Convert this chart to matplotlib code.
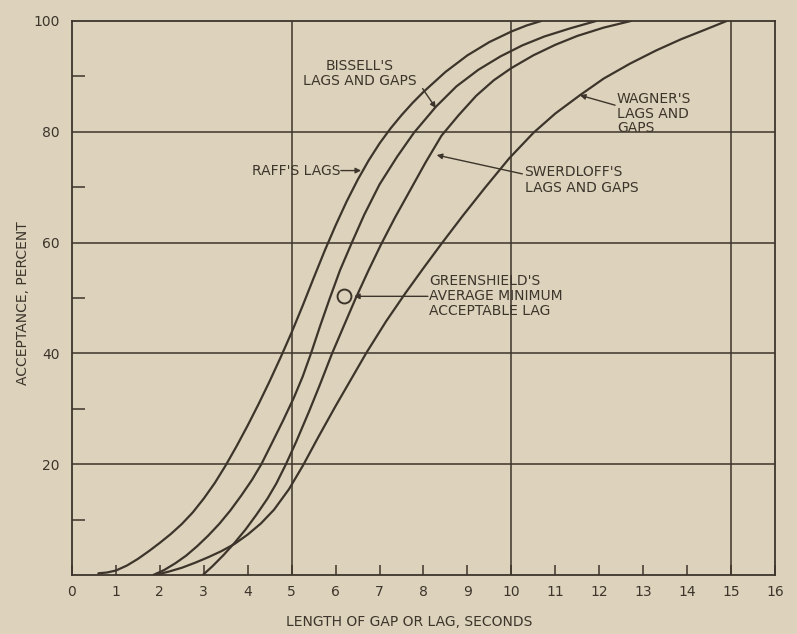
import matplotlib
matplotlib.use('Agg')
from matplotlib import pyplot as plt

# curves: gap/lag in seconds vs acceptance percent
raff_x = [0.6, 0.8, 1.0, 1.25, 1.5, 1.75, 2.0, 2.25, 2.5, 2.75, 3.0, 3.25, 3.5, 3.75, 4.0, 4.25, 4.5, 4.75,
          5.0, 5.25, 5.5, 5.75, 6.0, 6.25, 6.5, 6.75, 7.0, 7.25, 7.5, 7.75, 8.0, 8.5, 9.0, 9.5, 10.0, 10.35, 10.68]
raff_y = [0.3, 0.45, 0.8, 1.7, 2.9, 4.3, 5.8, 7.4, 9.2, 11.3, 13.8, 16.6, 19.8, 23.3, 27.0, 30.9, 35.0, 39.3,
          43.8, 48.6, 53.6, 58.5, 63.1, 67.4, 71.3, 74.8, 77.9, 80.6, 83.0, 85.2, 87.2, 90.8, 93.8, 96.2, 98.1, 99.2, 100]

bissell_x = [1.85, 2.1, 2.35, 2.6, 2.85, 3.1, 3.35, 3.6, 3.85, 4.1, 4.31, 4.55, 4.8, 5.05, 5.25, 5.44, 5.65,
             5.87, 6.1, 6.37, 6.65, 7.0, 7.4, 7.78, 8.28, 8.75, 9.25, 9.75, 10.25, 10.75, 11.35, 11.93]
bissell_y = [0, 0.9, 2.1, 3.5, 5.2, 7.1, 9.2, 11.6, 14.3, 17.2, 20, 23.8, 27.8, 32, 35.8, 40, 45,
             50, 55, 60, 65, 70.5, 75.5, 79.8, 84.5, 88.2, 91.2, 93.6, 95.6, 97.2, 98.7, 100]

swerdloff_x = [2.98, 3.2, 3.45, 3.7, 3.95, 4.2, 4.45, 4.65, 4.87, 5.1, 5.4, 5.65, 5.92, 6.2, 6.46, 6.75,
               7.03, 7.35, 7.7, 8.05, 8.41, 8.8, 9.2, 9.6, 10.0, 10.5, 11.0, 11.5, 12.1, 12.72]
swerdloff_y = [0, 1.6, 3.6, 5.8, 8.2, 10.9, 13.8, 16.5, 20, 24, 29.6, 34.5, 40, 45.2, 50, 55,
               59.6, 64.5, 69.5, 74.5, 79.3, 83, 86.5, 89.3, 91.5, 93.8, 95.7, 97.3, 98.8, 100]

wagner_x = [1.9, 2.2, 2.5, 2.8, 3.1, 3.4, 3.7, 4.0, 4.3, 4.6, 4.94, 5.26, 5.6, 6.0, 6.35, 6.7, 7.15, 7.6,
            8.0, 8.41, 8.9, 9.4, 9.95, 10.5, 11.0, 11.56, 12.1, 12.7, 13.3, 13.86, 14.4, 14.9]
wagner_y = [0, 0.6, 1.3, 2.2, 3.2, 4.3, 5.6, 7.3, 9.3, 11.8, 15.5, 19.8, 24.8, 30.5, 35.3, 40.1, 45.8, 51.0,
            55.4, 59.8, 64.9, 69.9, 75.2, 79.8, 83.3, 86.6, 89.6, 92.3, 94.7, 96.7, 98.4, 100]

greenshield_x = [6.19]
greenshield_y = [50.3]

bg = '#ddd3bc'
ink = '#3d352b'

fig = plt.figure(figsize=(7.97, 6.34), dpi=100, facecolor=bg)
ax = fig.add_axes([0.0903, 0.0931, 0.8821, 0.8738])
ax.set_facecolor(bg)

for x, y in [(raff_x, raff_y), (bissell_x, bissell_y), (swerdloff_x, swerdloff_y), (wagner_x, wagner_y)]:
    ax.plot(x, y, color=ink, lw=1.6, solid_capstyle='round', solid_joinstyle='round')

ax.plot(greenshield_x, greenshield_y, 'o', ms=10, mfc='none', mec=ink, mew=1.4)

ax.set_xlim(0, 16)
ax.set_ylim(0, 100)

# grid lines drawn like the original: only at 5 s and 20 %
for gx in [5, 10, 15]:
    ax.axvline(gx, color=ink, lw=1.1)
for gy in [20, 40, 60, 80]:
    ax.axhline(gy, color=ink, lw=1.1)

for s in ax.spines.values():
    s.set_color(ink)
    s.set_linewidth(1.3)

ax.set_xticks(range(0, 17))
ax.set_xticklabels([str(i) for i in range(0, 17)])
ax.set_yticks([0, 20, 40, 60, 80, 100])
ax.set_yticklabels(['', '20', '40', '60', '80', '100'])
ax.set_yticks([10, 30, 50, 70, 90], minor=True)
ax.tick_params(axis='x', direction='in', length=7, width=1.1, color=ink, labelcolor=ink, labelsize=10, pad=7)
ax.tick_params(axis='y', which='major', direction='in', length=0, labelcolor=ink, labelsize=10, pad=9)
ax.tick_params(axis='y', which='minor', direction='in', length=9, width=1.1, color=ink)

ax.set_xlabel('LENGTH OF GAP OR LAG, SECONDS', color=ink, fontsize=10)
ax.set_ylabel('ACCEPTANCE, PERCENT', color=ink, fontsize=10)
ax.xaxis.set_label_coords(0.479, -0.072)
ax.yaxis.set_label_coords(-0.060, 0.49)

fs = 10
arr = dict(arrowstyle='-|>', color=ink, lw=1.0, mutation_scale=8, shrinkA=0, shrinkB=0)

ax.text(6.55, 90.5, "BISSELL'S\nLAGS AND GAPS", ha='center', va='center', fontsize=fs, color=ink, linespacing=1.1)
ax.annotate('', xy=(8.28, 84.3), xytext=(7.98, 87.8), arrowprops=arr)

ax.text(6.1, 73, "RAFF'S LAGS", ha='right', va='center', fontsize=fs, color=ink)
ax.annotate('', xy=(6.58, 73), xytext=(6.12, 73), arrowprops=arr)

ax.text(10.3, 71.3, "SWERDLOFF'S\nLAGS AND GAPS", ha='left', va='center', fontsize=fs, color=ink, linespacing=1.1)
ax.annotate('', xy=(8.3, 75.8), xytext=(10.25, 72.4), arrowprops=arr)

ax.text(8.12, 50.3, "GREENSHIELD'S\nAVERAGE MINIMUM\nACCEPTABLE LAG", ha='left', va='center', fontsize=fs, color=ink, linespacing=1.1)
ax.annotate('', xy=(6.42, 50.3), xytext=(8.1, 50.3), arrowprops=arr)

ax.text(12.4, 83.3, "WAGNER'S\nLAGS AND\nGAPS", ha='left', va='center', fontsize=fs, color=ink, linespacing=1.05)
ax.annotate('', xy=(11.56, 86.6), xytext=(12.36, 84.8), arrowprops=arr)

plt.savefig('out.png', dpi=100, facecolor=bg)
